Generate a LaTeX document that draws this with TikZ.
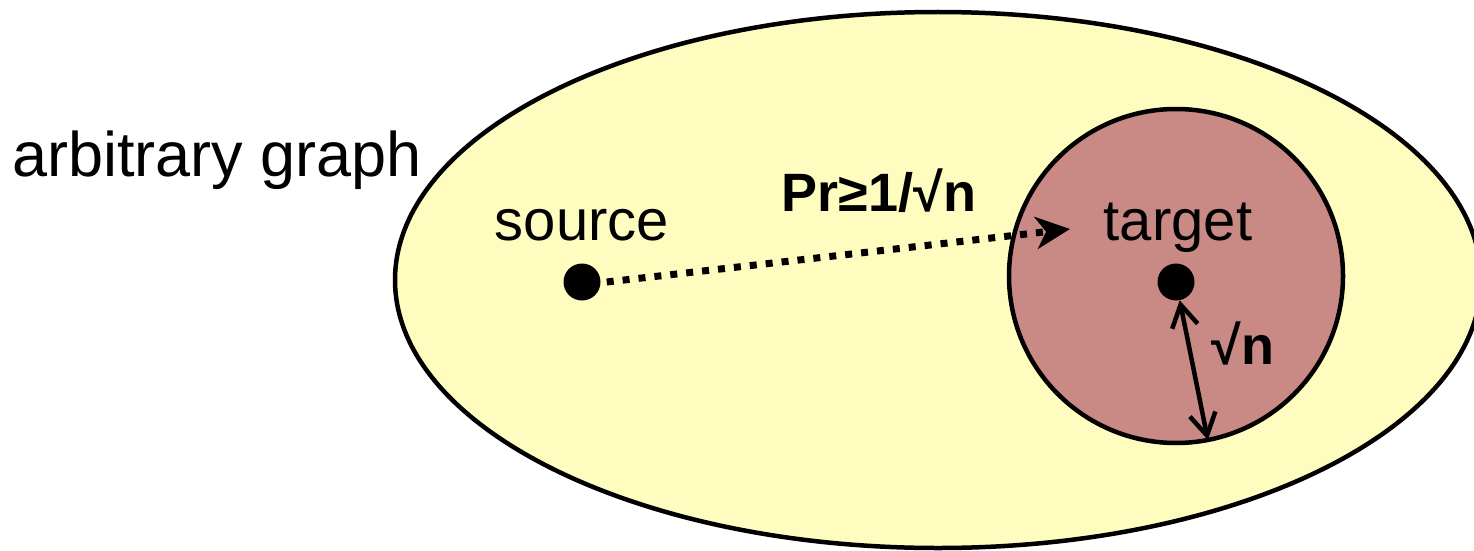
\documentclass[tikz,border=0pt]{standalone}
\usepackage{fontspec}
\setmainfont{Liberation Sans}
\usepackage{tikz}
\usetikzlibrary{arrows.meta,positioning}
\definecolor{graphfill}{RGB}{255,252,192}
\definecolor{targetfill}{RGB}{201,137,132}

\begin{document}
\begin{tikzpicture}[
    x=1pt, y=-1pt,
    area/.style={
        draw,
        line width=4.5pt
    },
    region/.style={
        area,
        circle,
        fill=targetfill,
        inner sep=0pt,
        outer sep=0pt,
        minimum size=334pt
    },
    dot/.style={circle, fill=black, inner sep=0pt, minimum size=37pt},
    txt/.style={inner sep=0pt, anchor=base, font=\fontsize{58}{60}\selectfont},
    boldtxt/.style={txt, font=\fontsize{54}{56}\selectfont\bfseries},
    hop/.style={-{Stealth[length=34pt,width=32pt,inset=10pt]}, line width=7pt, dash pattern=on 7pt off 9pt},
    span/.style={{Straight Barb[length=22pt,width=26pt]}-{Straight Barb[length=22pt,width=26pt]}, line width=4.5pt}
]
\fill[white] (0,0) rectangle (1474,551);
\useasboundingbox (0,0) rectangle (1474,551);

\draw[area, fill=graphfill] (938,280) ellipse [x radius=543pt, y radius=268pt];
\node[region] (ball) at (1176,276) {};

\node[dot] (src) at (582,282) {};
\node[dot] (tgt) at (1176,282) {};
\coordinate (hit) at (1070,229);

\draw[hop] ([xshift=6pt]src.east) -- (hit);
\draw[span] (tgt) -- (ball.-79);

\node[txt, anchor=base west, font=\fontsize{63}{65}\selectfont] (graph) at (12,176) {arbitrary graph};
\node[txt] (srclbl) at (582,240) {source};
\node[txt] (tgtlbl) at (1178,240) {target};
\node[boldtxt] (prob) at (879,211) {Pr≥1/√n};
\node[boldtxt] (dist) at (1243,364) {√n};
\end{tikzpicture}
\end{document}
